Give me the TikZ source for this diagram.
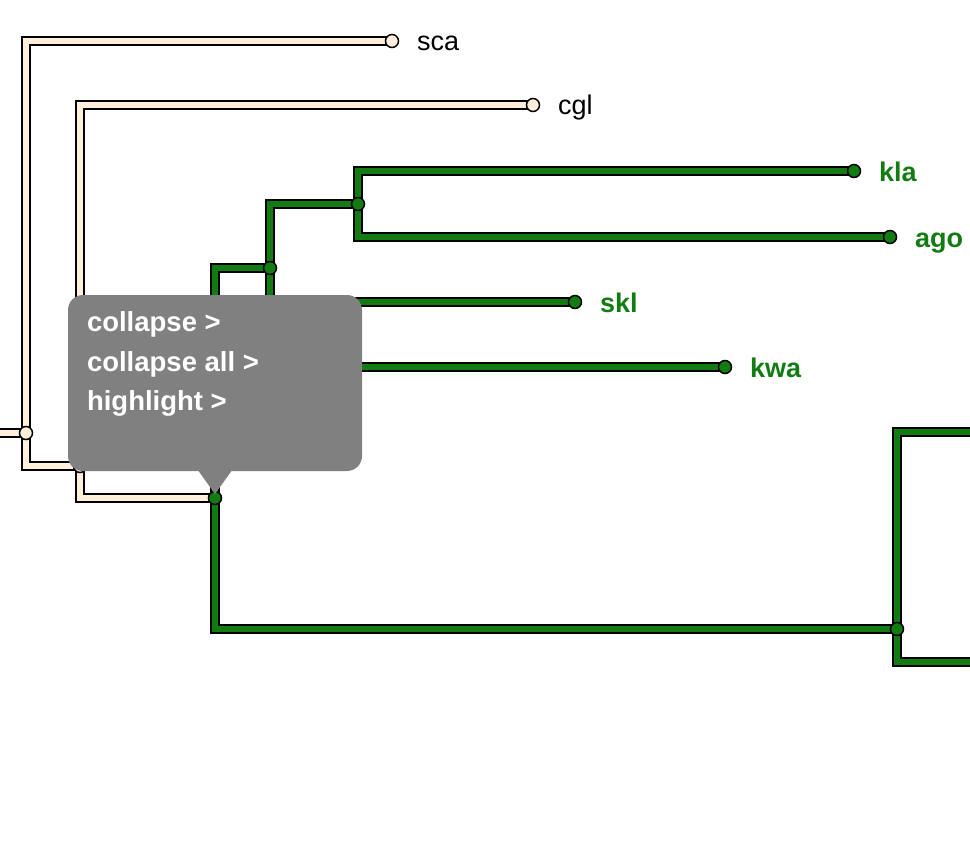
\documentclass[tikz,border=0pt]{standalone}
\usepackage{fontspec}
\setmainfont{Liberation Sans}
\definecolor{cream}{RGB}{255,239,219}
\definecolor{leafgreen}{RGB}{18,124,18}
\definecolor{menugray}{RGB}{128,128,128}
\tikzstyle{knot}=[circle,draw=black,line width=1.5pt,inner sep=0pt,minimum size=13pt]
\tikzstyle{leaflabel}=[anchor=base west,inner sep=0pt,font=\fontsize{27}{32}\selectfont]
\tikzstyle{menutext}=[anchor=base west,inner sep=0pt,text=white,font=\fontsize{27.5}{33}\selectfont\bfseries]
\def\outerw{10pt}
\def\innerw{6pt}

\begin{document}
\begin{tikzpicture}[x=1pt,y=-1pt]
	\clip (0,0) rectangle (970,854);
	% tree points
	\coordinate (root) at (-10,433);
	\coordinate (n0) at (26,433);
	\coordinate (sca) at (392,41);
	\coordinate (n1) at (80,466);
	\coordinate (cgl) at (533,105);
	\coordinate (n2) at (215,498);
	\coordinate (n3) at (270,268);
	\coordinate (n4) at (358,204);
	\coordinate (kla) at (854,171);
	\coordinate (ago) at (890,237);
	\coordinate (n5) at (325,334);
	\coordinate (skl) at (575,302);
	\coordinate (kwa) at (725,367);
	\coordinate (n6) at (897,629);
	\coordinate (o1) at (985,432);
	\coordinate (o2) at (985,662);
	% branches: outline first, then colour
	\def\branches{root/n0/cream, n0/sca/cream, n0/n1/cream, n1/cgl/cream, n1/n2/cream,
		n2/n3/leafgreen, n3/n4/leafgreen, n4/kla/leafgreen, n4/ago/leafgreen,
		n3/n5/leafgreen, n5/skl/leafgreen, n5/kwa/leafgreen,
		n2/n6/leafgreen, n6/o1/leafgreen, n6/o2/leafgreen}
	\foreach \p/\c/\col in \branches
		\draw[line width=\outerw,black] (\p) |- (\c);
	\foreach \p/\c/\col in \branches
		\draw[line width=\innerw,\col] (\p) |- (\c);
	\foreach \k/\col in {n0/cream,sca/cream,n1/cream,cgl/cream,n2/leafgreen,n3/leafgreen,n4/leafgreen,
		kla/leafgreen,ago/leafgreen,n5/leafgreen,skl/leafgreen,kwa/leafgreen,n6/leafgreen}
		\node[knot,fill=\col] (\k-dot) at (\k) {};
	% leaf names
	\foreach \k in {sca,cgl}
		\node[leaflabel] (\k-label) at ([xshift=25pt,yshift=-9pt]\k) {\k};
	\foreach \k in {kla,ago,skl,kwa}
		\node[leaflabel,text=leafgreen,font=\fontsize{27}{32}\selectfont\bfseries] (\k-label) at ([xshift=25pt,yshift=-10pt]\k) {\k};
	% popup menu
	\node[fill=menugray,rounded corners=15pt,minimum width=294pt,minimum height=176pt,inner sep=0pt] (menu) at (215,383) {};
	\fill[menugray] ([xshift=-17pt,yshift=1pt]menu.south) -- ([yshift=4pt]n2) -- ([xshift=17pt,yshift=1pt]menu.south) -- cycle;
	\node[menutext] (collapse) at ([xshift=19pt,yshift=-37pt]menu.north west) {collapse >};
	\node[menutext] (collapseall) at ([yshift=-40pt]collapse.base west) {collapse all >};
	\node[menutext] (highlight) at ([yshift=-39pt]collapseall.base west) {highlight >};
\end{tikzpicture}
\end{document}
